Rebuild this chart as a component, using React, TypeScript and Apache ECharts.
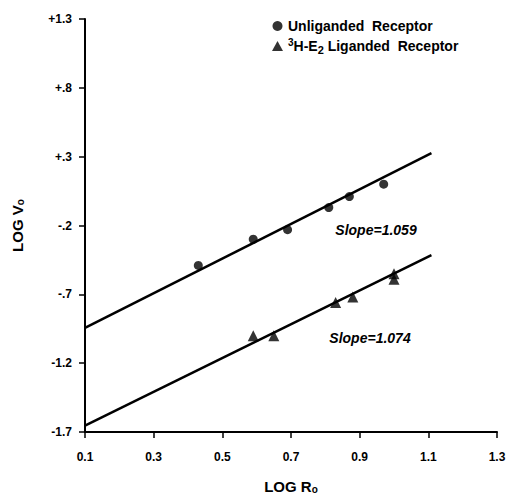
import React, { useEffect, useRef } from "react";
import * as echarts from "echarts";

const xTicks = { min: 0.1, max: 1.3, interval: 0.2 };
const yTicks = { min: -1.7, max: 1.3, interval: 0.5 };

const unligandedX = [0.43, 0.59, 0.69, 0.81, 0.87, 0.97];
const unligandedY = [-0.49, -0.3, -0.23, -0.07, 0.01, 0.1];

const ligandedX = [0.59, 0.65, 0.83, 0.88, 1.0, 1.0];
const ligandedY = [-1.0, -1.0, -0.76, -0.72, -0.59, -0.55];

const fit1X = [0.1, 1.109];
const fit1Y = [-0.943, 0.326];
const fit2X = [0.1, 1.109];
const fit2Y = [-1.654, -0.415];

const seriesNames = ["Unliganded Receptor", "3H-E2 Liganded Receptor"];
const slopeLabels = ["Slope=1.059", "Slope=1.074"];

const FONT = "Liberation Sans";

function zip(xs: number[], ys: number[]) {
  return xs.map((x, i) => [x, ys[i]]);
}

function fmtY(v: number) {
  const r = Math.round(v * 10) / 10;
  const sign = r >= 0 ? "+" : "-";
  const a = Math.abs(r);
  let s = a.toFixed(1);
  if (a < 1) s = s.slice(1);
  return sign + s;
}

export default function App() {
  const ref = useRef<HTMLDivElement>(null);
  useEffect(() => {
    if (!ref.current) return;
    const chart = echarts.init(ref.current, null, { renderer: "svg" });
    const lineStyle = { color: "#000", width: 2.5 };
    chart.setOption({
      animation: false,
      backgroundColor: "#fff",
      grid: { left: 85, right: 12, top: 19, bottom: 66, outerBoundsMode: "none", containLabel: false },
      legend: {
        data: [
          { name: seriesNames[0], icon: "circle" },
          { name: seriesNames[1], icon: "triangle" },
        ],
        orient: "vertical",
        left: 267,
        top: 14,
        itemWidth: 11,
        itemHeight: 10,
        itemGap: 4,
        formatter: (name: string) =>
          name === seriesNames[1]
            ? "{sup|3}{b|H-E}{sub|2}{b| Liganded  Receptor}"
            : "{b|Unliganded  Receptor}",
        textStyle: {
          color: "#000",
          fontFamily: FONT,
          fontWeight: "bold",
          fontSize: 14,
          rich: {
            b: { fontFamily: FONT, fontWeight: "bold", fontSize: 14, lineHeight: 18, color: "#000" },
            sup: { fontFamily: FONT, fontWeight: "bold", fontSize: 10, lineHeight: 9, verticalAlign: "top", color: "#000" },
            sub: { fontFamily: FONT, fontWeight: "bold", fontSize: 11, lineHeight: 9, verticalAlign: "bottom", color: "#000" },
          },
        },
      },
      xAxis: {
        type: "value",
        min: xTicks.min,
        max: xTicks.max,
        interval: xTicks.interval,
        splitLine: { show: false },
        axisLine: { onZero: false, lineStyle: { color: "#000", width: 2 } },
        axisTick: { length: 6, lineStyle: { color: "#000", width: 1.5 } },
        axisLabel: {
          margin: 19,
          color: "#000",
          fontFamily: FONT,
          fontWeight: "bold",
          fontSize: 12,
          formatter: (v: number) => (Math.round(v * 10) / 10).toFixed(1),
        },
        name: "{b|LOG R}{sub|o}",
        nameLocation: "middle",
        nameGap: 46,
        nameTextStyle: {
          color: "#000",
          fontFamily: FONT,
          fontWeight: "bold",
          fontSize: 15,
          rich: {
            b: { fontFamily: FONT, fontWeight: "bold", fontSize: 15, lineHeight: 16, color: "#000" },
            sub: { fontFamily: FONT, fontWeight: "bold", fontSize: 10, lineHeight: 8, verticalAlign: "bottom", color: "#000" },
          },
        },
      },
      yAxis: {
        type: "value",
        min: yTicks.min,
        max: yTicks.max,
        interval: yTicks.interval,
        splitLine: { show: false },
        axisLine: { show: true, onZero: false, lineStyle: { color: "#000", width: 2 } },
        axisTick: { show: true, length: 6, lineStyle: { color: "#000", width: 1.5 } },
        axisLabel: {
          margin: 13,
          color: "#000",
          fontFamily: FONT,
          fontWeight: "bold",
          fontSize: 12,
          formatter: fmtY,
        },
        name: "LOG V{sub|o}",
        nameLocation: "middle",
        nameGap: 60,
        nameTextStyle: {
          color: "#000",
          fontFamily: FONT,
          fontWeight: "bold",
          fontSize: 15,
          rich: {
            sub: { fontFamily: FONT, fontWeight: "bold", fontSize: 10, verticalAlign: "bottom", color: "#000" },
          },
        },
      },
      graphic: [
        {
          type: "text",
          x: 376,
          y: 230,
          style: {
            text: slopeLabels[0],
            fill: "#000",
            font: `italic bold 14px "${FONT}"`,
            align: "center",
            verticalAlign: "middle",
          },
        },
        {
          type: "text",
          x: 370,
          y: 338,
          style: {
            text: slopeLabels[1],
            fill: "#000",
            font: `italic bold 14px "${FONT}"`,
            align: "center",
            verticalAlign: "middle",
          },
        },
      ],
      series: [
        {
          name: "fit1",
          type: "line",
          data: zip(fit1X, fit1Y),
          showSymbol: false,
          symbol: "none",
          lineStyle,
          silent: true,
          z: 1,
        },
        {
          name: "fit2",
          type: "line",
          data: zip(fit2X, fit2Y),
          showSymbol: false,
          symbol: "none",
          lineStyle,
          silent: true,
          z: 1,
        },
        {
          name: seriesNames[0],
          type: "scatter",
          symbol: "circle",
          symbolSize: 9,
          itemStyle: { color: "#000" },
          data: zip(unligandedX, unligandedY),
          z: 3,
        },
        {
          name: seriesNames[1],
          type: "scatter",
          symbol: "triangle",
          symbolSize: 11,
          itemStyle: { color: "#000" },
          data: zip(ligandedX, ligandedY),
          z: 3,
        },
      ],
    });
    return () => chart.dispose();
  }, []);
  return (
    <div
      ref={ref}
      style={{ position: "fixed", left: 0, top: 0, width: 509, height: 498, background: "#fff" }}
    />
  );
}
